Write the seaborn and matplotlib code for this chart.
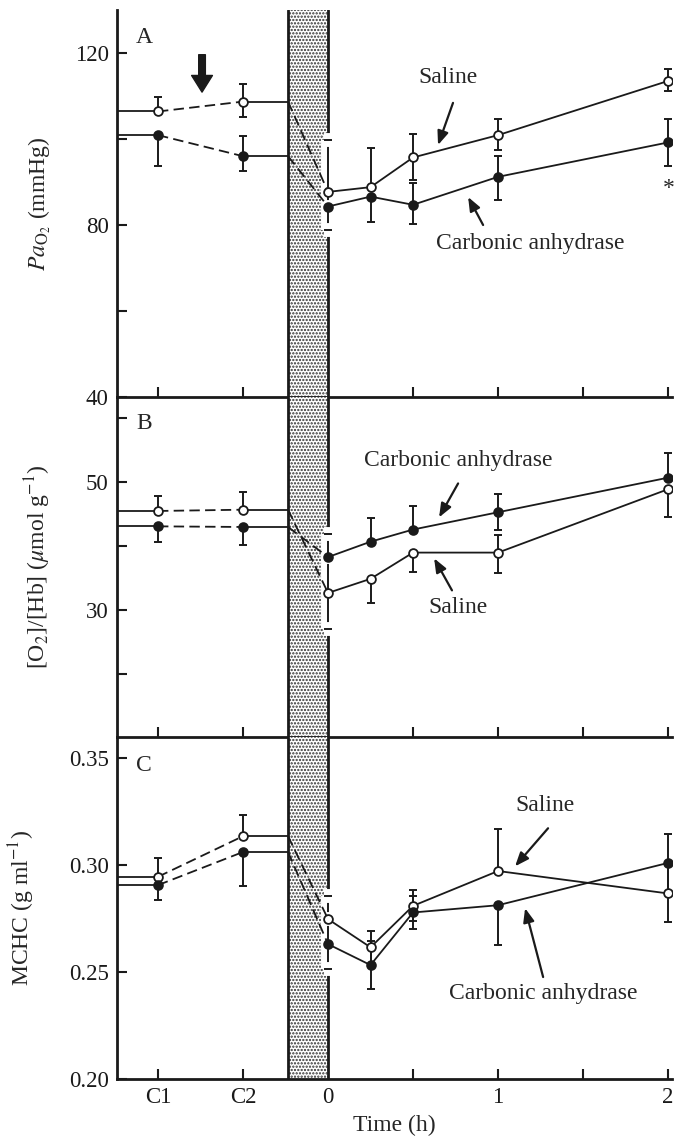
import numpy as np
import pandas as pd
import matplotlib
matplotlib.use("Agg")
import matplotlib.pyplot as plt
import matplotlib.patheffects as pe
import seaborn as sns

# ---------------------------------------------------------------- data
# Sampling times (h); the two control samples are placed before the exposure
time_labels = ["C1", "C2", "0", "0.25", "0.5", "1", "2"]
time_pos = [-1.0, -0.5, 0.0, 0.25, 0.5, 1.0, 2.0]
exposure = (-0.235, 0.0)          # shaded exposure window

# Panel A: arterial PO2 (mmHg), mean with upper / lower s.e.m.
pao2_saline = [106.4, 108.7, 87.7, 88.8, 95.7, 100.9, 113.5]
pao2_saline_up = [3.3, 4.0, 12.0, 9.0, 5.5, 3.8, 2.7]
pao2_saline_dn = [0, 3.7, 3.4, 0, 5.2, 3.5, 2.3]
pao2_ca = [100.9, 96.0, 84.3, 86.6, 84.7, 91.2, 99.2]
pao2_ca_up = [0, 4.7, 0, 0, 5.0, 4.9, 5.4]
pao2_ca_dn = [7.2, 3.4, 5.5, 5.8, 4.5, 5.4, 5.5]

# Panel B: [O2]/[Hb] (umol g-1)
o2hb_saline = [45.5, 45.7, 32.7, 34.9, 39.0, 39.0, 48.9]
o2hb_saline_up = [2.4, 2.8, 5.6, 0, 0, 2.7, 0]
o2hb_saline_dn = [0, 0, 5.7, 3.7, 3.0, 3.2, 4.4]
o2hb_ca = [43.1, 43.0, 38.3, 40.7, 42.6, 45.3, 50.7]
o2hb_ca_up = [0, 0, 3.6, 3.7, 3.6, 2.8, 3.9]
o2hb_ca_dn = [2.4, 2.8, 0, 0, 0, 2.8, 0]

# Panel C: MCHC (g ml-1)
mchc_saline = [0.2946, 0.3136, 0.2748, 0.2616, 0.2810, 0.2973, 0.2868]
mchc_saline_up = [0.009, 0.0098, 0.011, 0.0077, 0.0073, 0.0195, 0.0133]
mchc_saline_dn = [0, 0, 0.011, 0.0077, 0.0073, 0, 0.0133]
mchc_ca = [0.2907, 0.3062, 0.2631, 0.2533, 0.2779, 0.2813, 0.3011]
mchc_ca_up = [0, 0, 0.0116, 0.0114, 0.0079, 0, 0.0134]
mchc_ca_dn = [0.007, 0.016, 0.0116, 0.0114, 0.0079, 0.0187, 0.0134]

# ---------------------------------------------------------------- style
sns.set_theme(style="ticks")
plt.rcParams["font.family"] = ["Liberation Serif", "DejaVu Serif"]
plt.rcParams["mathtext.fontset"] = "stix"
plt.rcParams["lines.scale_dashes"] = False
plt.rcParams["hatch.linewidth"] = 1.1
plt.rcParams["hatch.color"] = "#303030"

FS_TICK = 16.5
FS_TEXT = 17
LW = 1.3
EW = 1.4
CAP = 3.0
DASH = (7.5, 3.8)
XLIM = (-1.241, 2.02)

fig = plt.figure(figsize=(6.74, 11.44), dpi=100)
left, width = 0.1736, 0.8227
axA = fig.add_axes([left, 0.65297, width, 0.33829])
axB = fig.add_axes([left, 0.35577, width, 0.29720])
axC = fig.add_axes([left, 0.05682, width, 0.29895])

halo = [pe.Stroke(linewidth=10, foreground="white"), pe.Normal()]


def error_bars(ax, x, v, err, upward):
    """One-sided error bars; bars at t = 0 get a white halo over the band edge."""
    x, v, err = map(np.asarray, (x, v, err))
    for xi, vi, ei in zip(x, v, err):
        if ei <= 0:
            continue
        yerr = [[0.0], [ei]] if upward else [[ei], [0.0]]
        c = ax.errorbar([xi], [vi], yerr=yerr, fmt="none", ecolor="k",
                        elinewidth=EW, capsize=CAP, capthick=EW, zorder=2.4)
        lo, hi = c.lines[1]
        (lo if upward else hi).set_visible(False)
        if xi == 0:
            for art in list(c.lines[1]) + list(c.lines[2]):
                art.set_path_effects(halo)


def draw_series(ax, vals, up, dn, filled):
    x = np.asarray(time_pos)
    v = np.asarray(vals)
    kw = dict(color="k", lw=LW, zorder=3)
    # control period
    ax.plot([XLIM[0], x[0]], [v[0], v[0]], **kw)
    ax.plot(x[:2], v[:2], dashes=DASH, **kw)
    ax.plot([x[1], exposure[0]], [v[1], v[1]], **kw)
    # during exposure
    ax.plot([exposure[0], x[2]], [v[1], v[2]], dashes=DASH, **kw)
    # recovery
    df = pd.DataFrame({"t": x[2:], "v": v[2:]})
    sns.lineplot(data=df, x="t", y="v", ax=ax, color="k", lw=LW,
                 estimator=None, sort=False, errorbar=None, zorder=3)
    error_bars(ax, x, v, up, True)
    error_bars(ax, x, v, dn, False)
    sns.scatterplot(x=x, y=v, ax=ax, marker="o", s=40,
                    color="k" if filled else "white", edgecolor="k",
                    linewidth=1.3, zorder=5, legend=False)
    ax.set_xlabel("")
    ax.set_ylabel("")


def style_axes(ax, ylim, yticks, ylabels, show_x):
    ax.set_xlim(*XLIM)
    ax.set_ylim(*ylim)
    ax.axvspan(*exposure, facecolor="white", edgecolor="#303030",
               hatch=".....", lw=0, zorder=1)
    for xe in exposure:
        ax.axvline(xe, color="k", lw=2.0, zorder=1.5)
    for s in ("top", "right"):
        ax.spines[s].set_visible(False)
    for s in ("left", "bottom"):
        ax.spines[s].set_linewidth(2.0)
        ax.spines[s].set_color("k")
    ax.set_yticks(yticks)
    ax.set_yticklabels(ylabels)
    xt = np.arange(-1.0, 2.01, 0.5)
    ax.set_xticks(xt)
    if show_x:
        names = dict(zip(time_pos, time_labels))
        ax.set_xticklabels([names[t] if (t < 0 or float(t).is_integer()) else ""
                            for t in xt])
    else:
        ax.set_xticklabels([])
    ax.tick_params(direction="in", length=7.5, width=1.5, colors="k",
                   labelsize=FS_TICK, pad=6)
    ax.set_facecolor("none")


# ---------------------------------------------------------------- panel A
style_axes(axA, (40, 130), [40, 60, 80, 100, 120], ["40", "", "80", "", "120"], False)
draw_series(axA, pao2_saline, pao2_saline_up, pao2_saline_dn, False)
draw_series(axA, pao2_ca, pao2_ca_up, pao2_ca_dn, True)
axA.set_ylabel(r"$Pa_{\mathrm{O}_2}$ (mmHg)", fontsize=FS_TEXT)
axA.yaxis.set_label_coords(-0.116, 0.5)
axA.text(-1.082, 123.7, "A", fontsize=FS_TEXT, ha="center", va="center")
axA.annotate("", xy=(-0.741, 110.9), xytext=(-0.741, 119.6),
             arrowprops=dict(arrowstyle="simple,head_length=0.6,head_width=0.75,tail_width=0.24",
                             color="k", shrinkA=0, shrinkB=0, mutation_scale=20))
axA.text(0.706, 114.4, "Saline", fontsize=FS_TEXT, ha="center", va="center")
axA.text(1.188, 75.8, "Carbonic anhydrase", fontsize=FS_TEXT, ha="center", va="center")
axA.text(2.006, 88.5, "*", fontsize=FS_TEXT, ha="center", va="center", clip_on=False)

# ---------------------------------------------------------------- panel B
style_axes(axB, (10.2, 63.3), [20, 30, 40, 50, 60], ["", "30", "", "50", ""], False)
draw_series(axB, o2hb_saline, o2hb_saline_up, o2hb_saline_dn, False)
draw_series(axB, o2hb_ca, o2hb_ca_up, o2hb_ca_dn, True)
axB.set_ylabel(r"[O$_2$]/[Hb] ($\mu$mol g$^{-1}$)", fontsize=FS_TEXT)
axB.yaxis.set_label_coords(-0.116, 0.5)
axB.text(-1.082, 59.2, "B", fontsize=FS_TEXT, ha="center", va="center")
axB.text(0.765, 53.4, "Carbonic anhydrase", fontsize=FS_TEXT, ha="center", va="center")
axB.text(0.765, 30.5, "Saline", fontsize=FS_TEXT, ha="center", va="center")

# ---------------------------------------------------------------- panel C
style_axes(axC, (0.20, 0.36), [0.20, 0.25, 0.30, 0.35],
           ["0.20", "0.25", "0.30", "0.35"], True)
draw_series(axC, mchc_saline, mchc_saline_up, mchc_saline_dn, False)
draw_series(axC, mchc_ca, mchc_ca_up, mchc_ca_dn, True)
axC.set_ylabel(r"MCHC (g ml$^{-1}$)", fontsize=FS_TEXT)
axC.yaxis.set_label_coords(-0.144, 0.5)
axC.set_xlabel("Time (h)", fontsize=FS_TEXT)
axC.xaxis.set_label_coords(0.5, -0.105)
axC.text(-1.082, 0.3467, "C", fontsize=FS_TEXT, ha="center", va="center")
axC.text(1.276, 0.328, "Saline", fontsize=FS_TEXT, ha="center", va="center")
axC.text(1.265, 0.2402, "Carbonic anhydrase", fontsize=FS_TEXT, ha="center", va="center")

# label pointers
pointer = dict(arrowstyle="-|>,head_length=0.55,head_width=0.22", color="k",
               lw=1.6, shrinkA=0, shrinkB=0, mutation_scale=15)
for ax, tail, head in [
    (axA, (0.735, 108.4), (0.647, 98.6)),
    (axA, (0.912, 80.0), (0.824, 86.5)),
    (axB, (0.765, 49.8), (0.653, 44.5)),
    (axB, (0.729, 33.1), (0.624, 38.1)),
    (axC, (1.294, 0.3173), (1.10, 0.2995)),
    (axC, (1.265, 0.2477), (1.159, 0.2799)),
]:
    ax.annotate("", xy=head, xytext=tail, arrowprops=pointer)

fig.savefig("out.png", dpi=100, facecolor="white")
